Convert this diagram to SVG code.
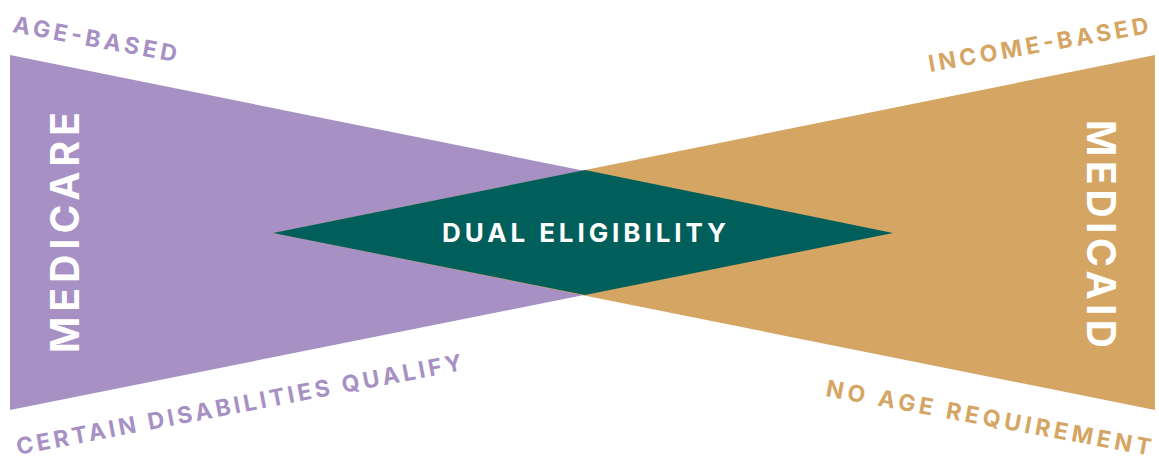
<svg xmlns="http://www.w3.org/2000/svg" width="1159" height="461" viewBox="0 0 1159 461">
<style>
text{font-family:Inter,"Liberation Sans",sans-serif;font-weight:700}
.lbl{font-size:23px;font-weight:700}
.p{fill:#A690C4}
.o{fill:#D5A563}
.w{fill:#FFFFFF}
.big{font-size:39px}
</style>
<rect width="1159" height="461" fill="#FFFFFF"/>
<g id="medicare">
<polygon class="p" points="10,55 10,410 893,233"/>
<text class="w big" transform="translate(79,232.5) rotate(-90)" text-anchor="middle" textLength="241" lengthAdjust="spacing">MEDICARE</text>
</g>
<g id="medicaid">
<polygon class="o" points="1155,55 1155,410 273,233"/>
<text class="w big" transform="translate(1087,234) rotate(90)" text-anchor="middle" textLength="228" lengthAdjust="spacing">MEDICAID</text>
</g>
<g id="dual">
<polygon fill="#005E5B" points="585,170 893,233 585,295 273,233"/>
<text class="w" x="584" y="242" font-size="26" text-anchor="middle" textLength="284" lengthAdjust="spacing">DUAL ELIGIBILITY</text>
</g>
<g id="labels">
<text class="p lbl" transform="translate(12,32) rotate(10.4)" textLength="166" lengthAdjust="spacing">AGE-BASED</text>
<text class="o lbl" transform="translate(930,72) rotate(-10.05)" textLength="223" lengthAdjust="spacing">INCOME-BASED</text>
<text class="p lbl" transform="translate(18,455) rotate(-10.8)" textLength="453" lengthAdjust="spacing">CERTAIN DISABILITIES QUALIFY</text>
<text class="o lbl" transform="translate(825,396) rotate(10.4)" textLength="330" lengthAdjust="spacing">NO AGE REQUIREMENT</text>
</g>
<g id="connectors"/>
</svg>
